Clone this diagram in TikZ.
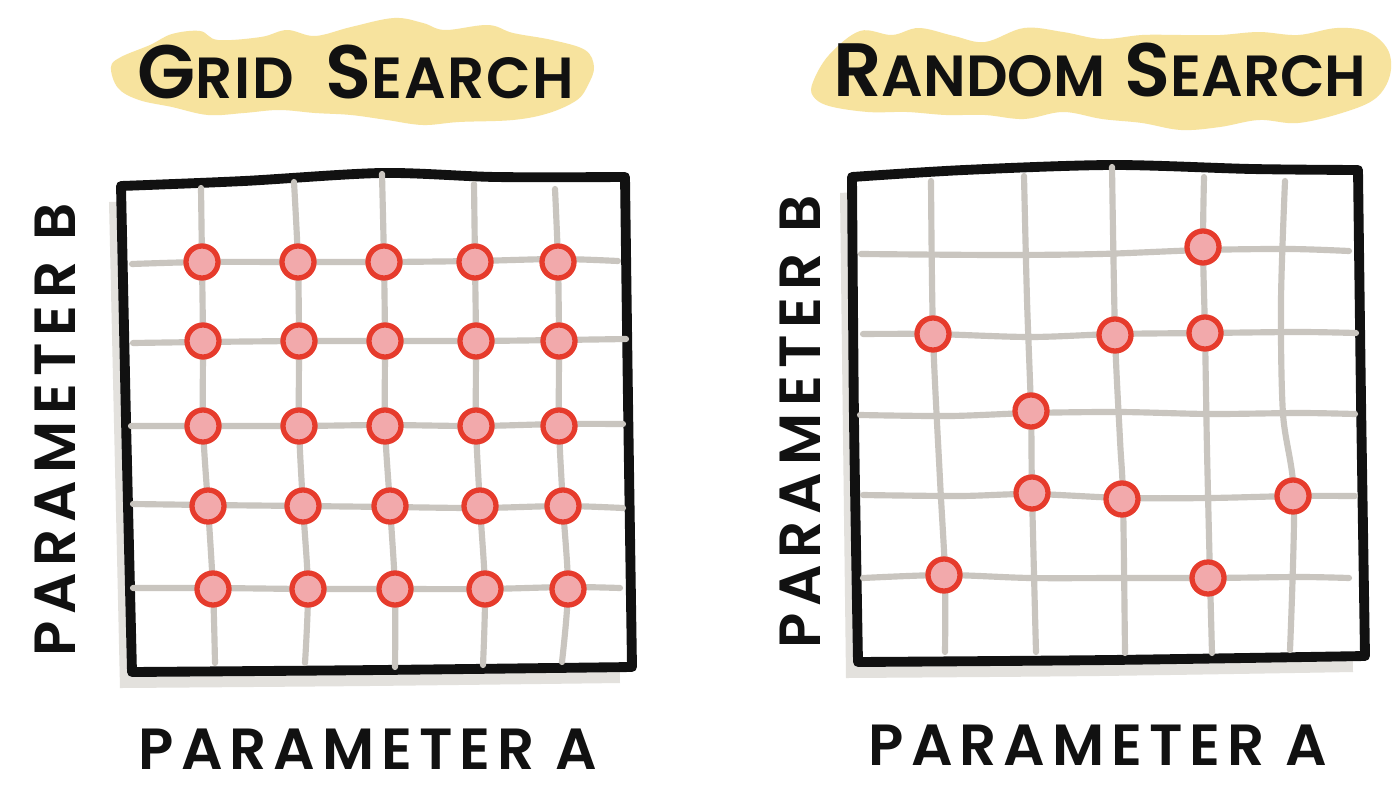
\documentclass[tikz,border=0pt]{standalone}
\usepackage{fontspec}
\IfFontExistsTF{Poppins SemiBold}
  {\setmainfont{Poppins}[BoldFont={Poppins SemiBold}]}
  {\setmainfont{Poppins}}
\definecolor{inkblack}{HTML}{111111}
\definecolor{gridgray}{HTML}{C9C5BF}
\definecolor{dotfill}{HTML}{F2A9AB}
\definecolor{dotred}{HTML}{E63B2C}
\definecolor{hlyellow}{HTML}{F7E39E}
\definecolor{shadowgray}{HTML}{E3E1DD}
\newcommand\mysc[2]{{\fontsize{21.5}{24}\selectfont #1}{\fontsize{16.5}{20}\selectfont #2}}
\begin{document}
\begin{tikzpicture}[x=0.01cm,y=-0.01cm,
  gridline/.style={line width=1.75pt, draw=gridgray, line cap=round, line join=round},
  frame/.style={line width=2.8pt, draw=inkblack, fill=white, line join=round, line cap=round},
  shade/.style={fill=shadowgray},
  hl/.style={fill=hlyellow},
  dot/.style={circle, inner sep=0pt, minimum size=0.32cm, line width=1.5pt, draw=dotred, fill=dotfill},
  title/.style={inner sep=0pt, text=inkblack, font=\bfseries\addfontfeatures{LetterSpace=3}},
  axis/.style={inner sep=0pt, text=inkblack, font=\bfseries\fontsize{16.5}{20}\selectfont\addfontfeatures{LetterSpace=12}}]
\useasboundingbox[fill=white] (0,0) rectangle (1400,800);

% ---------- highlight blobs ----------
\fill[hl] plot[smooth cycle, tension=0.6] coordinates {
 (111,67) (121,57) (150,45) (172,34) (200,31) (218,40) (261,37) (287,30) (315,36)
 (351,27) (394,18) (423,23) (445,30) (488,25) (513,33) (552,40) (585,50) (594,67)
 (588,85) (577,100) (549,113) (513,120) (459,122) (423,125) (387,120) (351,115)
 (315,113) (279,110) (244,113) (208,115) (172,107) (139,100) (118,88)};
\fill[hl] plot[smooth cycle, tension=0.6] coordinates {
 (813,82) (829,55) (860,31) (892,35) (919,28) (954,36) (985,42) (1024,28) (1063,32)
 (1102,39) (1142,35) (1181,35) (1220,35) (1259,32) (1298,35) (1337,28) (1368,32)
 (1388,50) (1390,75) (1376,98) (1345,112) (1298,123) (1259,120) (1220,127) (1181,130)
 (1142,123) (1102,119) (1063,112) (1024,119) (985,115) (946,115) (907,112) (868,112)
 (829,106) (813,96)};

% ---------- titles ----------
\node[title] (t1) at (356,72) {\mysc{G}{RID}\hspace{0.9em}\mysc{S}{EARCH}};
\node[inner sep=0pt, text=inkblack, font=\bfseries] (t2) at (1100,70) {\mysc{R}{ANDOM}\hspace{0.55em}\mysc{S}{EARCH}};

% ---------- left panel ----------
\fill[shade, xshift=-0.12cm, yshift=-0.16cm] plot[smooth, tension=0.5] coordinates {
 (121,186) (244,181) (382,173) (496,177) (625,177)} -- (632,667)
 -- plot[smooth, tension=0.5] coordinates {(632,667) (380,670) (132,672)} -- cycle;
\draw[frame] plot[smooth, tension=0.5] coordinates {
 (121,186) (244,181) (382,173) (496,177) (625,177)}
 -- plot[smooth, tension=0.4] coordinates {(625,177) (628,400) (632,667)}
 -- plot[smooth, tension=0.5] coordinates {(632,667) (380,670) (132,672)}
 -- plot[smooth, tension=0.4] coordinates {(132,672) (126,420) (121,186)} -- cycle;

% verticals
\draw[gridline] plot[smooth] coordinates {(201,188) (202,262) (203,341) (203,426) (208,506) (213,589) (215,663)};
\draw[gridline] plot[smooth] coordinates {(294,182) (298,262) (299,341) (299,426) (303,506) (308,589) (305,663)};
\draw[gridline] plot[smooth] coordinates {(382,174) (384,262) (385,341) (385,426) (390,506) (395,589) (395,667)};
\draw[gridline] plot[smooth] coordinates {(474,184) (475,262) (476,341) (476,426) (480,506) (485,589) (483,665)};
\draw[gridline] plot[smooth] coordinates {(555,189) (558,262) (559,341) (559,426) (563,506) (568,589) (562,662)};
% horizontals
\draw[gridline] plot[smooth] coordinates {(132,264) (202,262) (298,262) (384,262) (475,261) (558,259) (618,261)};
\draw[gridline] plot[smooth] coordinates {(133,343) (203,342) (299,341) (385,341) (476,341) (559,340) (626,339)};
\draw[gridline] plot[smooth] coordinates {(131,426) (203,426) (299,426) (385,425) (476,426) (559,424) (623,424)};
\draw[gridline] plot[smooth] coordinates {(133,504) (208,505) (303,506) (390,507) (480,508) (563,506) (623,508)};
\draw[gridline] plot[smooth] coordinates {(133,588) (213,588) (308,589) (395,589) (485,589) (568,587) (620,588)};

% dots
\foreach \r/\y/\xa/\xb/\xc/\xd/\xe in {1/262/202/298/384/475/558, 2/341/203/299/385/476/559,
  3/426/203/299/385/476/559, 4/506/208/303/390/480/563, 5/589/213/308/395/485/568}{
  \node[dot] (g\r a) at (\xa,\y) {};
  \node[dot] (g\r b) at (\xb,\y) {};
  \node[dot] (g\r c) at (\xc,\y) {};
  \node[dot] (g\r d) at (\xd,\y) {};
  \node[dot] (g\r e) at (\xe,\y) {};
}

\node[axis] (la) at (368,749) {PARAMETER A};
\node[axis, rotate=90] (lb) at (55,430) {PARAMETER B};

% ---------- right panel ----------
\fill[shade, xshift=-0.12cm, yshift=-0.16cm] plot[smooth, tension=0.5] coordinates {
 (852,177) (964,170) (1112,165) (1252,169) (1358,170)} -- (1365,656)
 -- plot[smooth, tension=0.5] coordinates {(1365,656) (1110,660) (858,662)} -- cycle;
\draw[frame] plot[smooth, tension=0.5] coordinates {
 (852,177) (964,170) (1112,165) (1252,169) (1358,170)}
 -- plot[smooth, tension=0.4] coordinates {(1358,170) (1361,400) (1365,656)}
 -- plot[smooth, tension=0.5] coordinates {(1365,656) (1110,660) (858,662)}
 -- plot[smooth, tension=0.4] coordinates {(858,662) (854,420) (852,177)} -- cycle;

% verticals
\draw[gridline] plot[smooth] coordinates {(931,181) (933,334) (940,480) (945,574) (945,652)};
\draw[gridline] plot[smooth] coordinates {(1024,176) (1027,300) (1031,411) (1032,492) (1036,652)};
\draw[gridline] plot[smooth] coordinates {(1112,167) (1115,334) (1120,440) (1123,498) (1125,653)};
\draw[gridline] plot[smooth] coordinates {(1204,177) (1203,247) (1205,333) (1207,450) (1210,577) (1212,653)};
\draw[gridline] plot[smooth] coordinates {(1285,181) (1281,300) (1283,414) (1294,496) (1290,650)};
% horizontals
\draw[gridline] plot[smooth] coordinates {(861,254) (1000,255) (1100,254) (1203,250) (1290,249) (1349,251)};
\draw[gridline] plot[smooth] coordinates {(863,334) (933,334) (1030,337) (1115,334) (1205,333) (1300,332) (1356,333)};
\draw[gridline] plot[smooth] coordinates {(860,415) (950,416) (1031,413) (1120,412) (1210,414) (1300,413) (1355,414)};
\draw[gridline] plot[smooth] coordinates {(863,495) (960,496) (1032,494) (1123,498) (1210,498) (1294,496) (1355,496)};
\draw[gridline] plot[smooth] coordinates {(863,578) (945,575) (1030,578) (1120,578) (1209,578) (1300,577) (1349,578)};

% dots
\node[dot] (r1) at (1203,247) {};
\node[dot] (r2) at (933,334) {};
\node[dot] (r3) at (1115,335) {};
\node[dot] (r4) at (1205,333) {};
\node[dot] (r5) at (1031,411) {};
\node[dot] (r6) at (1032,493) {};
\node[dot] (r7) at (1122,499) {};
\node[dot] (r8) at (1293,496) {};
\node[dot] (r9) at (944,575) {};
\node[dot] (r10) at (1208,578) {};

\node[axis] (ra) at (1098,745) {PARAMETER A};
\node[axis, rotate=90] (rb) at (800,422) {PARAMETER B};
\end{tikzpicture}
\end{document}
